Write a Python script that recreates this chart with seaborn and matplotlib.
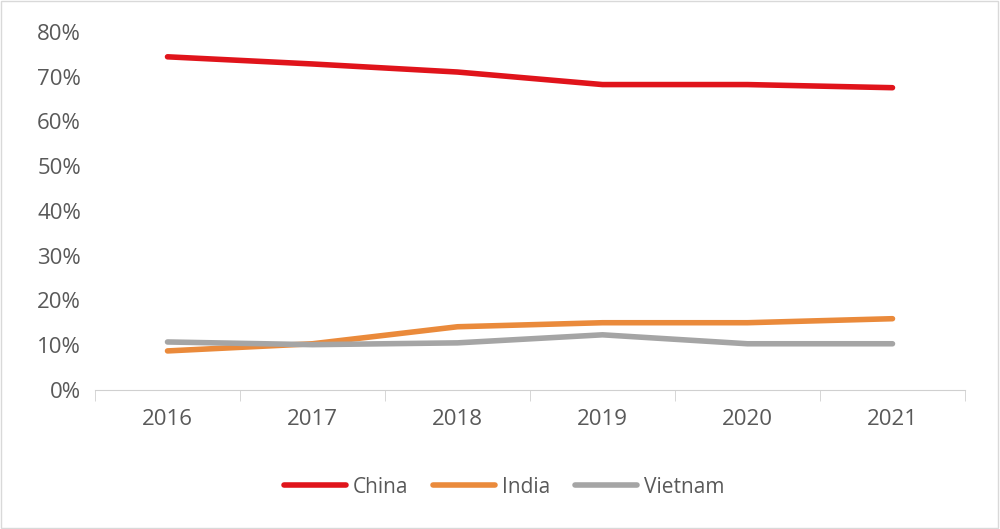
import matplotlib
matplotlib.use("Agg")
import matplotlib.pyplot as plt
import seaborn as sns
import pandas as pd
from matplotlib.ticker import PercentFormatter

years = ["2016", "2017", "2018", "2019", "2020", "2021"]
china = [74.4, 72.8, 71.0, 68.2, 68.2, 67.5]
india = [8.7, 10.3, 14.1, 15.0, 15.0, 15.9]
vietnam = [10.7, 10.1, 10.5, 12.3, 10.3, 10.3]

df = pd.DataFrame({"Year": years * 3,
                   "Share": china + india + vietnam,
                   "Country": ["China"] * 6 + ["India"] * 6 + ["Vietnam"] * 6})

sns.set_style("white")
plt.rcParams['font.family'] = ['Open Sans', 'DejaVu Sans']
grey = "#595959"

fig = plt.figure(figsize=(10, 5.29), dpi=100)
ax = fig.add_axes([0.095, 0.263, 0.87, 0.677])
palette = {"China": "#e0141b", "India": "#ea8a3b", "Vietnam": "#a5a5a5"}
sns.lineplot(data=df, x="Year", y="Share", hue="Country", palette=palette,
             linewidth=4, ax=ax, sort=False)

ax.set_xlim(-0.5, 5.5)
ax.set_ylim(0, 80)
ax.set_yticks(range(0, 81, 10))
ax.yaxis.set_major_formatter(PercentFormatter(decimals=0))
ax.set_xlabel("")
ax.set_ylabel("")
for s in ["top", "right", "left"]:
    ax.spines[s].set_visible(False)
ax.spines["bottom"].set_color("#d0d0d0")
ax.set_xticks([i - 0.5 for i in range(7)], minor=True)
ax.tick_params(axis="x", which="minor", length=8, color="#d0d0d0", bottom=True)
ax.tick_params(axis="x", which="major", length=0, pad=14, labelsize=16, labelcolor=grey)
ax.tick_params(axis="y", length=0, labelsize=16, labelcolor=grey, pad=10)

ax.legend(loc="upper center", bbox_to_anchor=(0.47, -0.19), ncol=3, frameon=False,
          fontsize=15, labelcolor=grey, handlelength=3.0, columnspacing=1.2,
          handletextpad=0.3)

fig.patches.append(plt.Rectangle((0.001, 0.001), 0.997, 0.997, transform=fig.transFigure,
                                 fill=False, edgecolor="#d9d9d9", linewidth=1))
fig.savefig("out.png", dpi=100)
